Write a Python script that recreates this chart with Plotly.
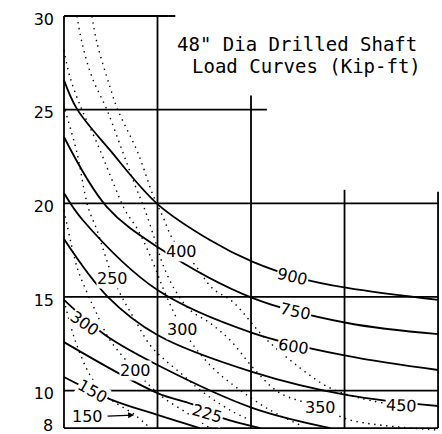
import plotly.graph_objects as go

# ---------------- data ----------------
y_ticks = [10, 15, 20, 25, 30]
y_bottom_label = "8"

# solid load curves (kip-ft)
c900_x = [0, 0.14, 0.49, 1.0, 1.56, 2.02, 2.52, 3.03, 4.0]
c900_y = [26.58, 25.03, 22.85, 19.96, 18.04, 16.87, 16.01, 15.48, 14.84]
c750_x = [0, 0.46, 1.0, 2.02, 3.03, 4.0]
c750_y = [23.54, 19.8, 17.67, 14.94, 13.61, 13.02]
c600_x = [0, 0.2, 1.0, 2.02, 3.03, 4.0]
c600_y = [20.55, 19.11, 15.37, 13.07, 11.85, 11.10]
c450_x = [0, 0.46, 1.0, 2.02, 3.03, 4.0]
c450_y = [18.09, 15.05, 12.97, 10.99, 9.76, 9.18]
c300_x = [0, 0.44, 1.0, 2.02, 2.85]
c300_y = [14.84, 12.97, 11.37, 9.07, 8.0]
c225_x = [0, 1.0, 1.37, 1.69, 2.1]
c225_y = [12.59, 9.87, 9.28, 8.54, 8.0]
c150_x = [0, 0.49, 1.0, 1.45]
c150_y = [10.73, 9.55, 8.70, 8.0]

# dotted curves
d400_x = [0.299, 0.353, 0.492, 0.567, 0.791, 0.952, 1.059, 1.155, 1.262, 1.401,
          1.583, 1.807, 2.139, 2.524, 2.845, 3.166, 3.412]
d400_y = [30, 28.56, 26.21, 25.09, 22.69, 20.44, 19.27, 18.15, 17.45, 16.71,
          15.48, 14.73, 12.86, 11.21, 10.14, 9.60, 9.34]
d350_x = [0.139, 0.193, 0.299, 0.46, 0.62, 0.759, 0.866, 0.973, 1.059, 1.187,
          1.348, 1.561, 1.775, 2.043, 2.31, 2.738, 3.059, 3.989]
d350_y = [30, 28.56, 26.74, 24.98, 22.85, 20.98, 19.64, 18.04, 16.71, 15.37,
          14.30, 13.61, 12.70, 11.10, 9.87, 9.12, 8.43, 7.9]
d300_x = [0, 0.064, 0.193, 0.353, 0.545, 0.652, 0.791, 0.941, 1.059, 1.187,
          1.273, 1.422, 1.615, 1.882, 2.203, 2.524]
d300_y = [28.18, 26.74, 24.98, 23.22, 20.87, 19.64, 18.57, 16.97, 15.48, 14.04,
          13.24, 12.17, 11.10, 10.03, 8.96, 8.16]
d250_x = [0.011, 0.139, 0.257, 0.353, 0.439, 0.524, 0.62, 0.759, 0.92, 1.08,
          1.273, 1.455, 1.775, 1.989]
d250_y = [24.98, 22.69, 19.80, 18.57, 17.24, 16.01, 14.99, 13.77, 12.43, 11.63,
          10.83, 10.03, 8.96, 8.43]
d200_x = [0, 0.139, 0.225, 0.332, 0.492, 0.759, 1.027, 1.348, 1.561]
d200_y = [19.64, 16.6, 15.48, 14.30, 12.70, 11.10, 9.76, 8.70, 8.0]
d150_x = [0, 0.118, 0.278, 0.439, 0.759, 0.92]
d150_y = [14.84, 12.70, 10.83, 9.76, 8.70, 8.0]

solid_curves = [(c900_x, c900_y), (c750_x, c750_y), (c600_x, c600_y),
                (c450_x, c450_y), (c300_x, c300_y), (c225_x, c225_y),
                (c150_x, c150_y)]
dotted_curves = [(d400_x, d400_y), (d350_x, d350_y), (d300_x, d300_y),
                 (d250_x, d250_y), (d200_x, d200_y), (d150_x, d150_y)]

# curve labels: text, x, y, angle
rot_labels = ["900", "750", "600", "450", "300", "150", "225"]
rot_x = [2.44, 2.48, 2.45, 3.61, 0.22, 0.31, 1.53]
rot_y = [16.07, 14.2, 12.33, 9.23, 13.56, 9.93, 8.8]
rot_a = [13, 12, 9, 3, 35, 30, 16]

up_labels = ["400", "250", "300", "200", "350", "150"]
up_x = [1.26, 0.52, 1.27, 0.76, 2.74, 0.25]
up_y = [17.45, 16.0, 13.24, 11.1, 9.12, 8.64]
arrow_tip = (0.75, 8.7)

# frame / grid segments
vgrid_x = [0, 1, 2, 3, 4]
vgrid_top = [30, 30, 25.76, 20.72, 20.62]
hgrid_y = [30, 25, 20, 15, 10, 8]
hgrid_end = [1.19, 2.17, 4, 4, 4, 4]

title1 = '48" Dia Drilled Shaft'
title2 = 'Load Curves (Kip-ft)'

# ---------------- figure ----------------
fig = go.Figure()
LW = 1.8

for gx, gt in zip(vgrid_x, vgrid_top):
    fig.add_shape(type="line", x0=gx, x1=gx, y0=8, y1=gt,
                  line=dict(color="black", width=LW))
for gy, ge in zip(hgrid_y, hgrid_end):
    fig.add_shape(type="line", x0=0, x1=ge, y0=gy, y1=gy,
                  line=dict(color="black", width=LW))

for dx, dy in dotted_curves:
    fig.add_trace(go.Scatter(x=dx, y=dy, mode="lines", line_shape="spline",
                             line=dict(color="black", width=1.4, dash="1.4px,4.6px"),
                             hoverinfo="skip", showlegend=False))
for sx, sy in solid_curves:
    fig.add_trace(go.Scatter(x=sx, y=sy, mode="lines", line_shape="spline",
                             line=dict(color="black", width=LW),
                             hoverinfo="skip", showlegend=False))

lab_font = dict(family="DejaVu Sans", size=16, color="black")
for t, lx, ly, la in zip(rot_labels, rot_x, rot_y, rot_a):
    fig.add_annotation(x=lx, y=ly, text=t, showarrow=False, textangle=la,
                       font=lab_font, bgcolor="white", borderpad=0)
for i, (t, lx, ly) in enumerate(zip(up_labels, up_x, up_y)):
    if i == len(up_labels) - 1:
        fig.add_annotation(x=arrow_tip[0], y=arrow_tip[1], ax=lx + 0.2, ay=ly,
                           axref="x", ayref="y", text="", showarrow=True,
                           arrowhead=2, arrowsize=1, arrowwidth=1.2,
                           arrowcolor="black")
    fig.add_annotation(x=lx, y=ly, text=t, showarrow=False, font=lab_font,
                       bgcolor="white", borderpad=0)

# bottom axis value label (kept inside the page)
fig.add_annotation(x=0, y=8, text=y_bottom_label, showarrow=False,
                   xanchor="right", yanchor="middle", xshift=-9, yshift=3,
                   font=lab_font)

title_font = dict(family="DejaVu Sans Mono", size=19, color="black")
fig.add_annotation(x=1.187, y=28.5, text=title1, showarrow=False,
                   xanchor="left", font=title_font)
fig.add_annotation(x=1.348, y=27.33, text=title2, showarrow=False,
                   xanchor="left", font=title_font)

fig.update_layout(
    width=442, height=434,
    margin=dict(l=61, r=2, t=12, b=3),
    paper_bgcolor="white", plot_bgcolor="white",
    xaxis=dict(range=[-0.032, 4.021], showgrid=False, zeroline=False,
               showticklabels=False, ticks="", showline=False, automargin=False),
    yaxis=dict(range=[7.844, 30.214], showgrid=False, zeroline=False,
               tickvals=y_ticks, ticktext=[str(v) for v in y_ticks],
               ticks="", showline=False, ticklabelstandoff=6,
               ticklabelshift=3, ticklabeloverflow="allow", automargin=False,
               tickfont=dict(family="DejaVu Sans", size=16, color="black")),
)
fig.write_html("out.html", config={"displayModeBar": False},
               post_script="document.body.style.margin='0';document.body.style.overflow='hidden';")
